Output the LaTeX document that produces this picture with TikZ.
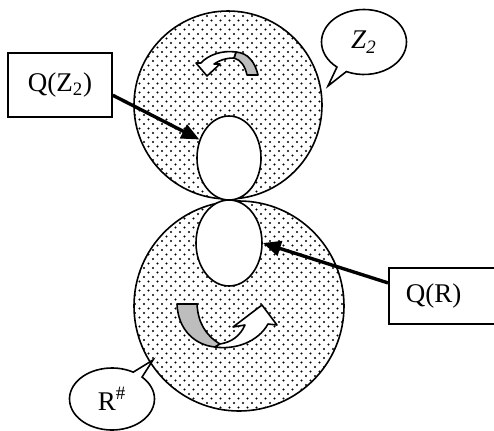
\documentclass[tikz,border=0pt]{standalone}
\usepackage{fontspec}
\setmainfont{Liberation Serif}
\usepackage{tikz}
\usetikzlibrary{arrows.meta,patterns,shapes.geometric,shapes.callouts}
\definecolor{ink}{HTML}{000000}
\definecolor{shade}{HTML}{BDBDBD}
\pgfdeclarepatternformonly{specks}{\pgfqpoint{-0.7pt}{-0.7pt}}{\pgfqpoint{3.8pt}{3.8pt}}{\pgfqpoint{4.5pt}{4.5pt}}{%
  \pgfpathcircle{\pgfqpoint{0pt}{0pt}}{0.6pt}%
  \pgfpathcircle{\pgfqpoint{2.25pt}{2.25pt}}{0.6pt}%
  \pgfusepath{fill}}
\tikzset{
  disc/.style={draw=ink, line width=0.8pt, pattern=specks, pattern color=ink},
  hole/.style={ellipse, draw=ink, fill=white, line width=0.8pt, inner sep=0pt},
  lbox/.style={draw=ink, line width=0.8pt, fill=white, minimum height=32pt},
  bubble/.style={ellipse callout, draw=ink, line width=0.8pt, fill=white, inner sep=0pt},
  turn/.style={draw=ink, line width=0.8pt, line join=round},
  ptr/.style={draw=ink, line width=1.7pt, -{Triangle[length=9pt,width=7.5pt]}},
  every node/.style={text=ink, font=\fontsize{13.5}{16}\selectfont}
}

\begin{document}
\begin{tikzpicture}[x=0.5pt, y=-0.5pt]
  \useasboundingbox (0,0) rectangle (494,430);

  % the two discs and their holes
  \draw[disc] (228,105) circle[radius=94];
  \draw[disc] (239,306) circle[radius=105];
  \node[hole, minimum width=32pt, minimum height=42pt] (hz) at (229,158) {};
  \node[hole, minimum width=33pt, minimum height=43pt] (hr) at (229,243) {};

  % turning arrows
  \filldraw[turn, fill=shade] (236,52) .. controls (248,53) and (255,62) .. (258,75)
    -- (247,75) .. controls (245,66) and (241,60) .. (234,58) -- cycle;
  \filldraw[turn, fill=white] (236,52) .. controls (222,50) and (208,55) .. (201,63)
    -- (196,63) -- (207,76) -- (220,64) -- (214,64)
    .. controls (220,60) and (226,58) .. (234,58) -- cycle;
  \filldraw[turn, fill=shade] (177,304) -- (197,304) .. controls (198,322) and (205,335) .. (220,344)
    -- (215,347) .. controls (195,345) and (178,330) .. (177,304) -- cycle;
  \filldraw[turn, fill=white] (215,347) .. controls (235,350) and (258,342) .. (268,324)
    -- (277,325) -- (262,305) -- (233,327) -- (245,325)
    .. controls (240,336) and (232,342) .. (220,344) -- cycle;

  % callouts
  \node[bubble, minimum width=42.5pt, minimum height=32.5pt,
    callout absolute pointer={(328,86)}] (cz) at (364,42) {\textit{Z}\textsubscript{\textit{2}}};
  \node[bubble, minimum width=42.5pt, minimum height=31pt,
    callout absolute pointer={(153,360)}] (cr) at (112,399) {R\textsuperscript{\#}};

  % labels
  \node[lbox, minimum width=52pt] (qz) at (60,85) {Q(Z\textsubscript{2})};
  \node[lbox, anchor=west, minimum height=28pt, text width=39pt, inner xsep=8.5pt,
    align=left] (qr) at (388,296) {Q(R)};

  \draw[ptr] (qz.-11) -- (hz.148);
  \draw[ptr] (qr.167) -- (hr.east);
\end{tikzpicture}
\end{document}
